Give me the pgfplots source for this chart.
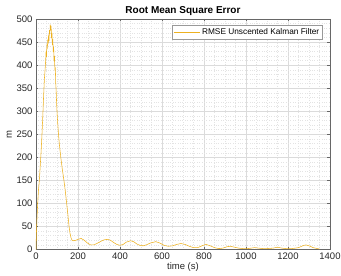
\documentclass[border=0pt]{standalone}
\usepackage{pgfplots}
\pgfplotsset{compat=1.18}
\usepackage{fontspec}
\setmainfont{Liberation Sans}
\definecolor{mline}{HTML}{EDB120}
\definecolor{axgray}{HTML}{262626}
\begin{document}
\begin{tikzpicture}
\useasboundingbox (-36pt,-26.5pt) rectangle (305pt,249.5pt);
\begin{axis}[
  scale only axis,
  width=294pt, height=230.5pt,
  at={(0,0)}, anchor=south west,
  xmin=0, xmax=1400, ymin=0, ymax=500,
  xtick={0,200,...,1400}, ytick={0,50,...,500},
  minor x tick num=3, minor y tick num=4,
  grid=both,
  major grid style={color=black!14, line width=0.4pt},
  minor grid style={color=black!11, dotted, line width=0.35pt},
  axis line style={color=axgray!70, line width=0.5pt},
  tick style={color=axgray!70, line width=0.5pt},
  major tick length=2.5pt, minor tick length=0pt,
  tick align=inside,
  ticklabel style={font=\fontsize{9.5}{10}\selectfont, color=axgray},
  /pgf/number format/assume math mode=true,
  /pgf/number format/1000 sep={},
  xlabel={time (s)}, ylabel={m},
  xlabel style={font=\fontsize{9.5}{10}\selectfont, color=axgray, yshift=4pt},
  ylabel style={font=\fontsize{9.5}{10}\selectfont, color=axgray, yshift=-2pt},
  title={Root Mean Square Error},
  title style={font=\bfseries\fontsize{10}{11}\selectfont, yshift=-6pt},
  legend style={at={(0.975,0.975)}, anchor=north east, font=\fontsize{8.3}{9}\selectfont,
    draw=black!40, fill=white, inner sep=1.2pt, row sep=0pt},
  legend cell align=left,
  legend image code/.code={\draw[#1] (0pt,0pt) -- (26pt,0pt);},
  clip=true,
]
\addplot[color=mline, line width=0.55pt] coordinates {
(0,0) (2,35) (5,70) (8,100) (12,130) (16,150) (20,180) (24,210) (28,245)
(32,285) (36,330) (40,370) (44,395) (46,410) (48,430) (50,418) (52,445)
(54,436) (56,455) (58,446) (60,466) (62,452) (64,476) (66,468) (68,488)
(70,476) (72,485) (74,458) (76,470) (78,444) (80,457) (82,428) (84,440)
(86,408) (88,420) (90,388) (92,395) (94,360) (96,345) (98,320) (100,300)
(104,270) (108,245) (112,225) (118,200) (125,175) (133,150) (140,125)
(146,100) (152,75) (157,52) (162,35) (167,25) (172,20) (180,19) (190,20)
(200,22) (215,24) (230,20) (245,14) (260,10) (275,10) (290,13) (310,18)
(325,21) (340,22) (355,20) (370,15) (385,11) (400,9) (415,11) (430,16)
(450,19) (465,17) (480,12) (495,9) (510,8) (525,10) (545,14) (570,17)
(590,14) (610,9) (630,7) (650,8) (670,11) (690,13) (710,11) (730,7)
(750,4) (770,4) (790,8) (810,11) (830,8) (850,4) (870,2) (890,3)
(910,6) (925,7) (945,5) (965,3) (985,2) (1010,2) (1040,4) (1060,3)
(1080,2) (1100,2) (1130,3) (1150,5) (1170,3) (1190,2) (1220,2) (1250,4)
(1270,8) (1285,10) (1300,8) (1320,4) (1340,2) (1350,1)
};
\addlegendentry{RMSE Unscented Kalman Filter}
\end{axis}
\end{tikzpicture}
\end{document}
